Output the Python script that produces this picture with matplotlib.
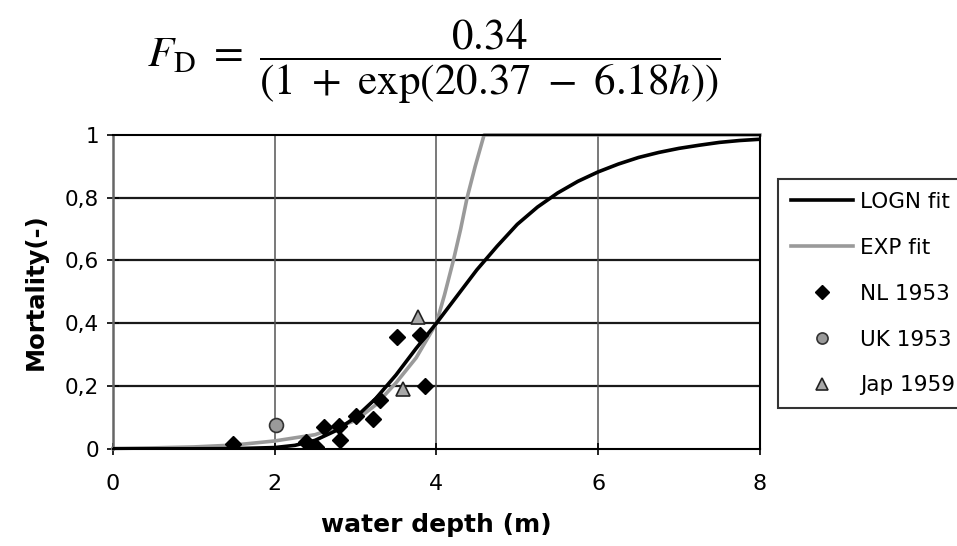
"""Mortality vs water depth, LOGN and EXP fits"""
import matplotlib
matplotlib.use("Agg")
import matplotlib.pyplot as plt

plt.rcParams['mathtext.fontset'] = 'stix'
plt.rcParams['font.family'] = ['DejaVu Sans']

# fitted curves
logn_h = [0, 0.5, 1, 1.5, 2, 2.25, 2.5, 2.75, 3, 3.25, 3.5, 3.75, 4, 4.25, 4.5,
          4.75, 5, 5.25, 5.5, 5.75, 6, 6.25, 6.5, 6.75, 7, 7.25, 7.5, 7.75, 8]
logn_f = [0, 0, 0, 0.0005, 0.004, 0.011, 0.027, 0.057, 0.10, 0.16, 0.235, 0.32,
          0.40, 0.485, 0.57, 0.645, 0.715, 0.77, 0.815, 0.852, 0.882, 0.907,
          0.928, 0.944, 0.957, 0.967, 0.976, 0.982, 0.986]
exp_h = [0, 0.5, 1, 1.5, 2, 2.5, 3, 3.25, 3.5, 3.75, 4, 4.1, 4.21, 4.3, 4.38, 4.48, 4.59, 8]
exp_f = [0.001, 0.003, 0.006, 0.012, 0.025, 0.045, 0.09, 0.14, 0.21, 0.29,
         0.40, 0.49, 0.60, 0.70, 0.80, 0.90, 1.0, 1.0]

# observations
nl_h = [1.49, 2.39, 2.51, 2.61, 2.80, 2.81, 3.0, 3.21, 3.3, 3.51, 3.8, 3.86]
nl_f = [0.016, 0.021, 0.006, 0.069, 0.072, 0.029, 0.104, 0.096, 0.156, 0.357, 0.363, 0.201]
uk_h = [2.02]
uk_f = [0.077]
jap_h = [3.77, 3.59]
jap_f = [0.42, 0.19]

xticks = [0, 2, 4, 6, 8]
yticks = [0, 0.2, 0.4, 0.6, 0.8, 1]
ylabels = ['0', '0,2', '0,4', '0,6', '0,8', '1']

fig = plt.figure(figsize=(9.57, 5.46), dpi=100)
ax = fig.add_axes([0.118, 0.178, 0.676, 0.575])

for y in yticks[1:-1]:
    ax.axhline(y, color='#1a1a1a', lw=1.6, zorder=1)
for x in xticks[1:-1]:
    ax.axvline(x, color='#555555', lw=1.1, zorder=1)

l1, = ax.plot(logn_h, logn_f, color='black', lw=2.6, zorder=3, label='LOGN fit')
l2, = ax.plot(exp_h, exp_f, color='#9a9a9a', lw=2.6, zorder=2, label='EXP fit', clip_on=False)
s1, = ax.plot(nl_h, nl_f, 'D', color='black', ms=8.5, ls='none', zorder=4, label='NL 1953')
s2, = ax.plot(uk_h, uk_f, 'o', mfc='#9a9a9a', mec='#333333', mew=1.2, ms=10, ls='none',
              zorder=4, label='UK 1953')
s3, = ax.plot(jap_h, jap_f, '^', mfc='#a8a8a8', mec='#222222', mew=1.2, ms=10, ls='none',
              zorder=4, label='Jap 1959')

ax.set_xlim(0, 8)
ax.set_ylim(0, 1)
ax.set_xticks(xticks)
ax.set_yticks(yticks)
ax.set_yticklabels(ylabels)
ax.tick_params(direction='inout', length=8, width=1.2, labelsize=15.5, pad=6)
ax.tick_params(axis='x', labelsize=16, pad=14)
for side in ['top', 'right', 'bottom']:
    ax.spines[side].set_color('black')
    ax.spines[side].set_linewidth(1.5)
ax.spines['left'].set_color('#666666')
ax.spines['left'].set_linewidth(1.8)

ax.set_xlabel('water depth (m)', fontsize=18, fontweight='bold', labelpad=14)
ax.set_ylabel('Mortality(-)', fontsize=17.5, fontweight='bold', labelpad=12)

fig.text(0.454, 0.886, r'$F_\mathrm{D}\ =\ \dfrac{0.34}{(1\ +\ \exp(20.37\ -\ 6.18h))}$',
         fontsize=31, ha='center', va='center')

leg = fig.legend(handles=[l1, l2, s1, s2, s3], loc='upper left',
                 bbox_to_anchor=(0.813, 0.672), bbox_transform=fig.transFigure,
                 fontsize=15.5, frameon=True, fancybox=False, borderaxespad=0,
                 borderpad=0.6, labelspacing=1.2, handlelength=2.9,
                 handletextpad=0.3, markerscale=0.8)
leg.get_frame().set_edgecolor('black')
leg.get_frame().set_linewidth(1.5)

fig.savefig('out.png', dpi=100)
